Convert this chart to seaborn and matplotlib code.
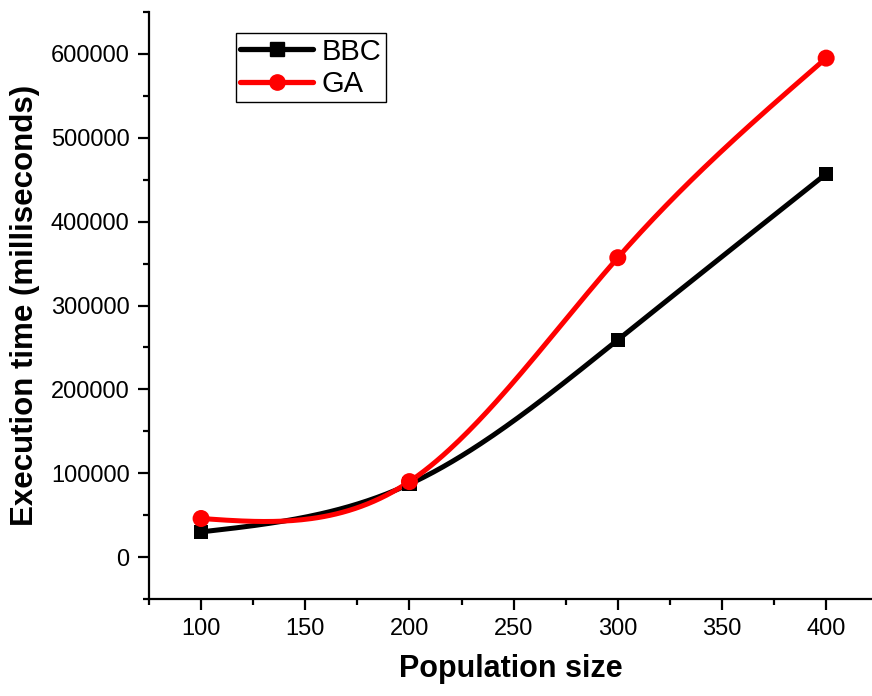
import numpy as np
import pandas as pd
import matplotlib
matplotlib.use("Agg")
import matplotlib.pyplot as plt
from matplotlib.lines import Line2D
from matplotlib.ticker import MultipleLocator
import seaborn as sns

population = [100, 200, 300, 400]
bbc_time = [30000, 87000, 259000, 457000]
ga_time = [46000, 90000, 357000, 595000]


def natural_spline(x, y, n=200):
    # smooth connecting line like Origin's "spline" line style
    x = np.asarray(x, float)
    y = np.asarray(y, float)
    k = len(x)
    h = np.diff(x)
    A = np.zeros((k, k))
    b = np.zeros(k)
    A[0, 0] = A[-1, -1] = 1
    for i in range(1, k - 1):
        A[i, i - 1] = h[i - 1]
        A[i, i] = 2 * (h[i - 1] + h[i])
        A[i, i + 1] = h[i]
        b[i] = 6 * ((y[i + 1] - y[i]) / h[i] - (y[i] - y[i - 1]) / h[i - 1])
    M = np.linalg.solve(A, b)
    xs = np.linspace(x[0], x[-1], n)
    idx = np.clip(np.searchsorted(x, xs) - 1, 0, k - 2)
    x0, x1 = x[idx], x[idx + 1]
    hh = x1 - x0
    ys = (M[idx] * (x1 - xs) ** 3 / (6 * hh) + M[idx + 1] * (xs - x0) ** 3 / (6 * hh)
          + (y[idx] / hh - M[idx] * hh / 6) * (x1 - xs)
          + (y[idx + 1] / hh - M[idx + 1] * hh / 6) * (xs - x0))
    return xs, ys


df = pd.DataFrame({
    "Population size": population * 2,
    "time": bbc_time + ga_time,
    "method": ["BBC"] * 4 + ["GA"] * 4,
})

sns.set_style("ticks")
plt.rcParams["font.family"] = ["Liberation Sans", "DejaVu Sans"]
plt.rcParams["text.color"] = "black"
plt.rcParams["axes.labelcolor"] = "black"

fig = plt.figure(figsize=(8.72, 6.96), dpi=100)
ax = fig.add_axes([149 / 872, 97 / 696, 723 / 872, 587 / 696])

colors = {"BBC": "black", "GA": "#ff0000"}
markers = {"BBC": "s", "GA": "o"}

# smooth connecting lines
for name, vals in [("BBC", bbc_time), ("GA", ga_time)]:
    xs, ys = natural_spline(population, vals)
    ax.plot(xs, ys, color=colors[name], lw=3.6, solid_capstyle="round", zorder=2)

# data points
for name in ["BBC", "GA"]:
    sub = df[df["method"] == name]
    sns.scatterplot(data=sub, x="Population size", y="time", color=colors[name],
                    marker=markers[name], s=110 if name == "BBC" else 150,
                    edgecolor="none", ax=ax, legend=False, zorder=3)

ax.set_xlim(75, 422)
ax.set_ylim(-50000, 650000)
ax.xaxis.set_major_locator(MultipleLocator(50))
ax.xaxis.set_minor_locator(MultipleLocator(25))
ax.yaxis.set_major_locator(MultipleLocator(100000))
ax.yaxis.set_minor_locator(MultipleLocator(50000))
ax.set_xticks([100, 150, 200, 250, 300, 350, 400])

sns.despine(ax=ax)
for side in ["left", "bottom"]:
    ax.spines[side].set_linewidth(1.6)
    ax.spines[side].set_color("black")
ax.tick_params(which="major", length=8, width=1.6, labelsize=17, colors="black", pad=6)
ax.tick_params(which="minor", length=4, width=1.6, colors="black")

ax.set_xlabel("Population size", fontsize=22, fontweight="bold", labelpad=10)
ax.set_ylabel("Execution time (milliseconds)", fontsize=22.5, fontweight="bold", labelpad=8)

handles = [
    Line2D([], [], color="black", lw=3.8, marker="s", markersize=10, solid_capstyle="round"),
    Line2D([], [], color="#ff0000", lw=3.8, marker="o", markersize=11, solid_capstyle="round"),
]
leg = ax.legend(handles, ["BBC", "GA"], loc="upper left", bbox_to_anchor=(0.12, 0.964),
                borderaxespad=0, fontsize=21, handlelength=2.5, handletextpad=0.3,
                labelspacing=0.15, borderpad=0.15, fancybox=False, framealpha=1)
leg.get_frame().set_edgecolor("black")
leg.get_frame().set_linewidth(1.0)

fig.savefig("out.png", dpi=100)
